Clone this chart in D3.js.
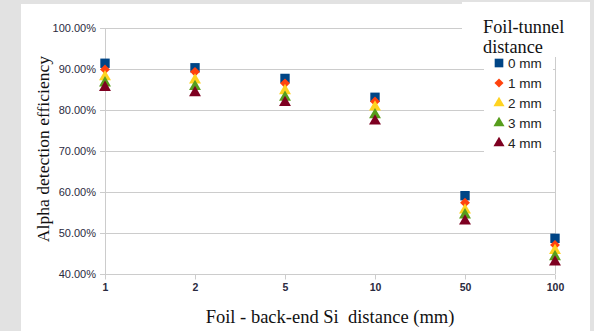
<!DOCTYPE html>
<html>
<head>
<meta charset="utf-8">
<script src="https://cdn.jsdelivr.net/npm/d3@7"></script>
<style>
  html, body { margin: 0; padding: 0; background: #e2e2e2; }
  svg { display: block; }
</style>
</head>
<body>
<div id="chart"></div>
<script>
// Foil - back-end Si distance categories (mm)
const distances = ["1", "2", "5", "10", "50", "100"];
const seriesNames = ["0 mm", "1 mm", "2 mm", "3 mm", "4 mm"];
// efficiency per series, one value per distance
const eff0 = [0.914, 0.903, 0.877, 0.831, 0.591, 0.487];
const eff1 = [0.899, 0.893, 0.865, 0.821, 0.574, 0.471];
const eff2 = [0.881, 0.873, 0.847, 0.807, 0.556, 0.457];
const eff3 = [0.866, 0.857, 0.831, 0.788, 0.544, 0.442];
const eff4 = [0.855, 0.842, 0.818, 0.773, 0.529, 0.429];
const yTicks = [0.4, 0.5, 0.6, 0.7, 0.8, 0.9, 1.0];

const width = 594, height = 331;
const colors = ["#004586", "#ff420e", "#ffd320", "#579d1c", "#7e0021"];
const diamond = d3.symbolDiamond2 || d3.symbolDiamond;
const shapes = [d3.symbolSquare, diamond, d3.symbolTriangle, d3.symbolTriangle, d3.symbolTriangle];
const sizes = [88, 62, 62, 62, 62];

const svg = d3.select("#chart").append("svg")
    .attr("width", width)
    .attr("height", height);

// white panel
svg.append("rect")
    .attr("x", 21).attr("y", 4)
    .attr("width", 569).attr("height", height - 4)
    .attr("fill", "white");

const x = d3.scalePoint().domain(distances).range([105, 555]);
const y = d3.scaleLinear().domain([0.4, 1.0]).range([274, 28]);

// gridlines
svg.append("g")
    .selectAll("line")
    .data(yTicks)
    .join("line")
    .attr("x1", 100).attr("x2", 555)
    .attr("y1", d => y(d) + 0.5).attr("y2", d => y(d) + 0.5)
    .attr("stroke", "#cccccc");

// frame sides
svg.append("line")
    .attr("x1", 105.5).attr("x2", 105.5)
    .attr("y1", y(1.0)).attr("y2", y(0.4))
    .attr("stroke", "#cccccc");
svg.append("line")
    .attr("x1", 555.5).attr("x2", 555.5)
    .attr("y1", y(1.0)).attr("y2", y(0.4))
    .attr("stroke", "#cccccc");

// y axis labels
const yAxis = svg.append("g")
    .attr("transform", "translate(100,0)")
    .call(d3.axisLeft(y).tickValues(yTicks).tickSize(0).tickPadding(4)
        .tickFormat(d => (d * 100).toFixed(2) + "%"));
yAxis.select(".domain").remove();
yAxis.selectAll("text")
    .attr("fill", "#2a2a3e")
    .style("font-family", "Liberation Sans, Arial, sans-serif")
    .style("font-size", "11px");

// x axis
const xAxis = svg.append("g")
    .attr("transform", `translate(0,${y(0.4) + 0.5})`)
    .call(d3.axisBottom(x).tickSize(5).tickPadding(4));
xAxis.select(".domain").remove();
xAxis.selectAll("line").attr("stroke", "#cccccc");
xAxis.selectAll("text")
    .attr("fill", "#2a2a3e")
    .style("font-family", "Liberation Sans, Arial, sans-serif")
    .style("font-weight", "bold")
    .style("font-size", "10.5px");

// data markers
const allSeries = [eff0, eff1, eff2, eff3, eff4];
allSeries.forEach((vals, i) => {
    svg.append("g")
        .selectAll("path")
        .data(vals)
        .join("path")
        .attr("transform", (d, j) => `translate(${x(distances[j])},${y(d)})`)
        .attr("d", d3.symbol().type(shapes[i]).size(sizes[i]))
        .attr("fill", colors[i]);
});

// axis titles
svg.append("text")
    .attr("x", 330).attr("y", 323)
    .attr("text-anchor", "middle")
    .style("white-space", "pre")
    .style("font-family", "Liberation Serif, Times New Roman, serif")
    .style("font-size", "18.5px")
    .attr("fill", "#111")
    .text("Foil - back-end Si  distance (mm)");

svg.append("text")
    .attr("transform", "translate(49,149) rotate(-90)")
    .attr("text-anchor", "middle")
    .style("font-family", "Liberation Serif, Times New Roman, serif")
    .style("font-size", "17.6px")
    .attr("fill", "#111")
    .text("Alpha detection efficiency");

// legend
svg.append("rect")
    .attr("x", 462).attr("y", 2)
    .attr("width", 128).attr("height", 55)
    .attr("fill", "white");
svg.append("rect")
    .attr("x", 484).attr("y", 57)
    .attr("width", 69).attr("height", 98)
    .attr("fill", "white");

const legendTitle = svg.append("text")
    .style("font-family", "Liberation Serif, Times New Roman, serif")
    .style("font-size", "18.3px")
    .attr("fill", "#111");
legendTitle.append("tspan").attr("x", 483).attr("y", 33).text("Foil-tunnel");
legendTitle.append("tspan").attr("x", 483).attr("y", 53).text("distance");

const legend = svg.append("g")
    .selectAll("g")
    .data(seriesNames)
    .join("g")
    .attr("transform", (d, i) => `translate(499,${63 + i * 20})`);
legend.append("path")
    .attr("d", (d, i) => d3.symbol().type(shapes[i]).size(sizes[i] * 0.85)())
    .attr("fill", (d, i) => colors[i]);
legend.append("text")
    .attr("x", 9).attr("y", 5)
    .style("font-family", "Liberation Sans, Arial, sans-serif")
    .style("font-size", "13.5px")
    .attr("fill", "#222")
    .text(d => d);
</script>
</body>
</html>
